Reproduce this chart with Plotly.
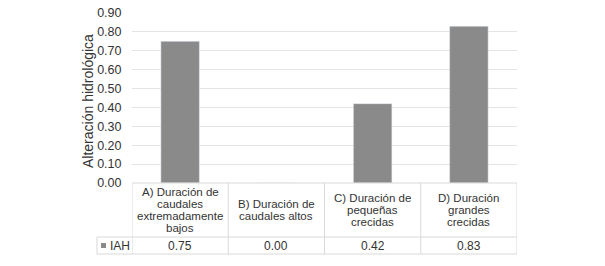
import plotly.graph_objects as go

categories = ["A) Duración de\ncaudales\nextremadamente\nbajos",
              "B) Duración de\ncaudales altos",
              "C) Duración de\npequeñas\ncrecidas",
              "D) Duración\ngrandes\ncrecidas"]
iah_values = [0.75, 0.00, 0.42, 0.83]
value_labels = ["0.75", "0.00", "0.42", "0.83"]
series_name = "IAH"
y_ticks = [0.0, 0.1, 0.2, 0.3, 0.4, 0.5, 0.6, 0.7, 0.8, 0.9]

W, H = 605, 266
px = lambda v: v / W
py = lambda v: (H - v) / H

BAR = "#8a8a8a"
TXT = "#333333"
LINE = "#d9d9d9"
FONT = "Liberation Sans, Arial, sans-serif"

xs = list(range(len(categories)))
fig = go.Figure(go.Bar(x=xs, y=iah_values, marker_color=BAR, width=0.4, name=series_name,
                       showlegend=False, hoverinfo="skip"))

plot_left, plot_right = 132, 517
plot_top, plot_bottom = 13, 183
row1_bottom, row2_bottom = 237, 254

fig.update_layout(
    width=W, height=H, margin=dict(l=0, r=0, t=0, b=0, autoexpand=False),
    paper_bgcolor="white", plot_bgcolor="white",
    font=dict(family=FONT, color=TXT),
    xaxis=dict(domain=[px(plot_left), px(plot_right)], range=[-0.5, len(categories) - 0.5],
               showticklabels=False, showgrid=False, zeroline=False, showline=False,
               automargin=False),
    yaxis=dict(domain=[py(plot_bottom), py(plot_top)], range=[0, 0.9],
               tickvals=y_ticks, ticktext=[f"{v:.2f}" for v in y_ticks],
               tickfont=dict(size=12.5, color=TXT, family=FONT),
               showgrid=True, gridcolor="#e4e4e4", gridwidth=1, automargin=False,
               zeroline=False, showline=False, ticks="outside", ticklen=7, tickcolor="rgba(0,0,0,0)"),
)

shapes = []
def line(x0, y0, x1, y1, xref="paper"):
    shapes.append(dict(type="line", xref=xref, yref="paper", x0=x0, y0=y0, x1=x1, y1=y1,
                       line=dict(color=LINE, width=1)))

# horizontal table lines
line(px(plot_left), py(plot_bottom), px(plot_right), py(plot_bottom))
line(px(97), py(row1_bottom), px(plot_right), py(row1_bottom))
line(px(97), py(row2_bottom), px(plot_right), py(row2_bottom))
# vertical table lines at category boundaries
n = len(categories)
for i in range(n + 1):
    line(i - 0.5, py(plot_bottom), i - 0.5, py(row2_bottom), xref="x")
line(px(97), py(row1_bottom), px(97), py(row2_bottom))

annotations = []
line_h = 11.7
header_mid = (plot_bottom + row1_bottom) / 2
for i, cat in enumerate(categories):
    parts = cat.split("\n")
    start = header_mid - line_h * (len(parts) - 1) / 2
    for k, p in enumerate(parts):
        annotations.append(dict(x=i, xref="x", y=py(start + k * line_h), yref="paper",
                                text=p, showarrow=False, xanchor="center", yanchor="middle",
                                font=dict(size=11.5, color=TXT, family=FONT)))
    annotations.append(dict(x=i, xref="x", y=py((row1_bottom + row2_bottom) / 2), yref="paper",
                            text=value_labels[i], showarrow=False, xanchor="center", yanchor="middle",
                            font=dict(size=12, color=TXT, family=FONT)))

# legend key + series name
shapes.append(dict(type="rect", xref="paper", yref="paper",
                   x0=px(101), x1=px(106), y0=py(248), y1=py(243),
                   fillcolor=BAR, line=dict(width=0)))
annotations.append(dict(x=px(108), y=py((row1_bottom + row2_bottom) / 2), xref="paper", yref="paper",
                        text=series_name, showarrow=False, xanchor="left", yanchor="middle",
                        font=dict(size=12, color=TXT, family=FONT)))
# y-axis title
annotations.append(dict(x=px(88), y=py(101), xref="paper", yref="paper",
                        text="Alteración hidrológica", textangle=-90, showarrow=False,
                        xanchor="center", yanchor="middle",
                        font=dict(size=14, color=TXT, family=FONT)))

fig.update_layout(shapes=shapes, annotations=annotations)
fig.write_html("out.html", config={"displayModeBar": False},
               post_script="document.body.style.margin='0';document.body.style.overflow='hidden';")
